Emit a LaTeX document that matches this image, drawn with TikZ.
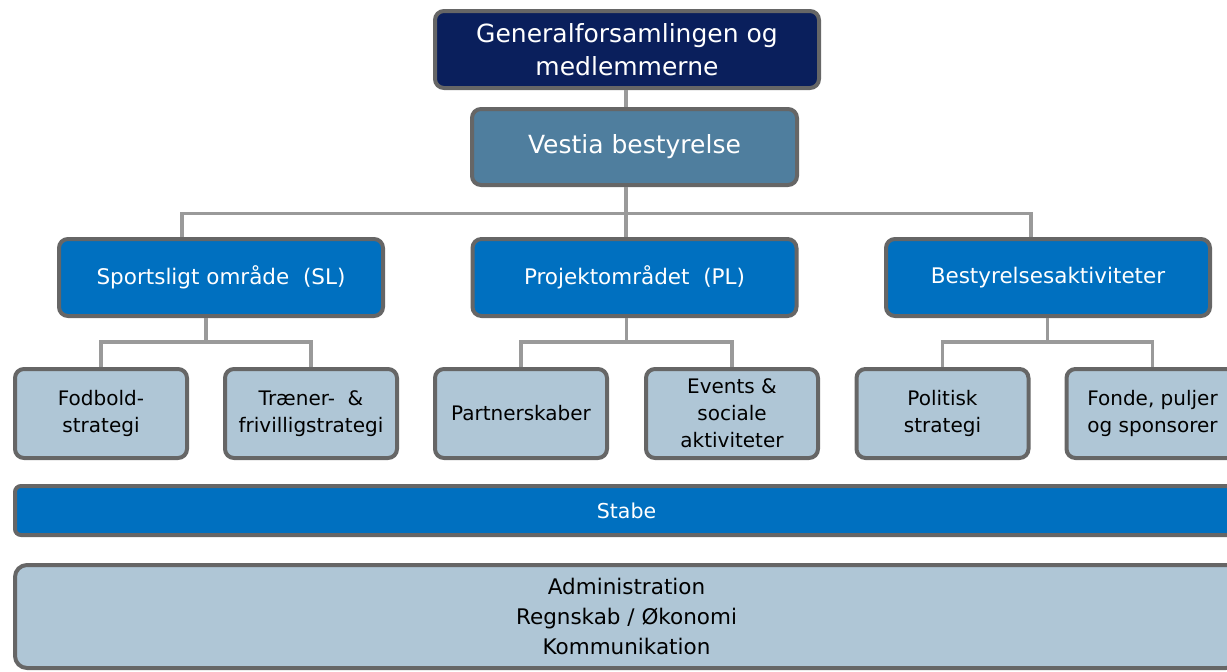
\documentclass[tikz,border=0pt]{standalone}
\usepackage{fontspec}
\setmainfont{DejaVu Sans}
\usetikzlibrary{positioning,calc}
\definecolor{navy}{HTML}{0A1F5C}
\definecolor{steel}{HTML}{4F7E9E}
\definecolor{midblue}{HTML}{0070C0}
\definecolor{paleblue}{HTML}{AFC6D6}
\definecolor{edge}{HTML}{666666}
\definecolor{link}{HTML}{9A9A9A}
\tikzset{
  box/.style={draw=edge,line width=4pt,rounded corners=9pt,align=center,inner sep=0pt},
  topbox/.style={box,fill=navy,text=white,minimum width=384pt,minimum height=77pt,
    font=\fontsize{25}{33}\selectfont},
  boardbox/.style={box,fill=steel,text=white,minimum width=325pt,minimum height=76pt,
    font=\fontsize{25}{33}\selectfont},
  areabox/.style={box,fill=midblue,text=white,minimum width=324pt,minimum height=77pt,
    font=\fontsize{21.5}{26}\selectfont},
  taskbox/.style={box,fill=paleblue,text=black,minimum width=172pt,minimum height=89pt,
    font=\fontsize{20}{27}\selectfont},
  barbox/.style={box,fill=midblue,text=white,rounded corners=6pt,minimum width=1223pt,minimum height=49pt,
    font=\fontsize{20.5}{24}\selectfont},
  basebox/.style={box,fill=paleblue,text=black,rounded corners=12pt,minimum width=1223pt,minimum height=103pt,
    font=\fontsize{21.5}{30}\selectfont},
  link/.style={draw=link,line width=3.5pt}
}
\begin{document}
\begin{tikzpicture}[x=1pt,y=-1pt]
\useasboundingbox (0,0) rectangle (1227,672);
% top of the organisation
\node[topbox] (gen) at (627,49.5) {Generalforsamlingen og\\medlemmerne};
\node[boardbox] (board) at (634.5,147) {Vestia bestyrelse};
% areas
\node[areabox] (sl) at (221,277.5) {Sportsligt område~ (SL)};
\node[areabox] (pl) at (634.5,277.5) {Projektområdet~ (PL)};
\node[areabox] (ba) at (1048,277.5) {Bestyrelsesaktiviteter};
% tasks
\node[taskbox] (sl1) at (101,413.5) {Fodbold-\\strategi};
\node[taskbox] (sl2) at (311,413.5) {Træner-~ \&\\frivilligstrategi};
\node[taskbox] (pl1) at (521,413.5) {Partnerskaber};
\node[taskbox] (pl2) at (732,413.5) {Events \&\\sociale\\aktiviteter};
\node[taskbox] (ba1) at (942.5,413.5) {Politisk\\strategi};
\node[taskbox] (ba2) at (1152.5,413.5) {Fonde, puljer\\og sponsorer};
% staff
\node[barbox] (stabe) at (626.5,510.5) {Stabe};
\node[basebox] (admin) at (626.5,616.5) {Administration\\Regnskab / Økonomi\\Kommunikation};
% connectors
\draw[link] (gen.south -| 626,0) -- (board.north -| 626,0);
\coordinate (hub) at (626,213.5);
\draw[link] (board.south -| hub) -- (hub);
\draw[link] ([xshift=-39pt]sl.north) |- (hub) -| ([xshift=-17pt]ba.north);
\draw[link] (hub) -- (pl.north -| hub);
\foreach \p/\a/\b in {sl/sl1/sl2,pl/pl1/pl2,ba/ba1/ba2}{
  \coordinate (\p mid) at ($(\a.north)!0.5!(\b.north)$);
  \draw[link] (\p.south -| \p mid) -- ++(0,24);
  \draw[link] (\a.north) -- ++(0,-25) -| (\b.north);
}
\end{tikzpicture}
\end{document}
